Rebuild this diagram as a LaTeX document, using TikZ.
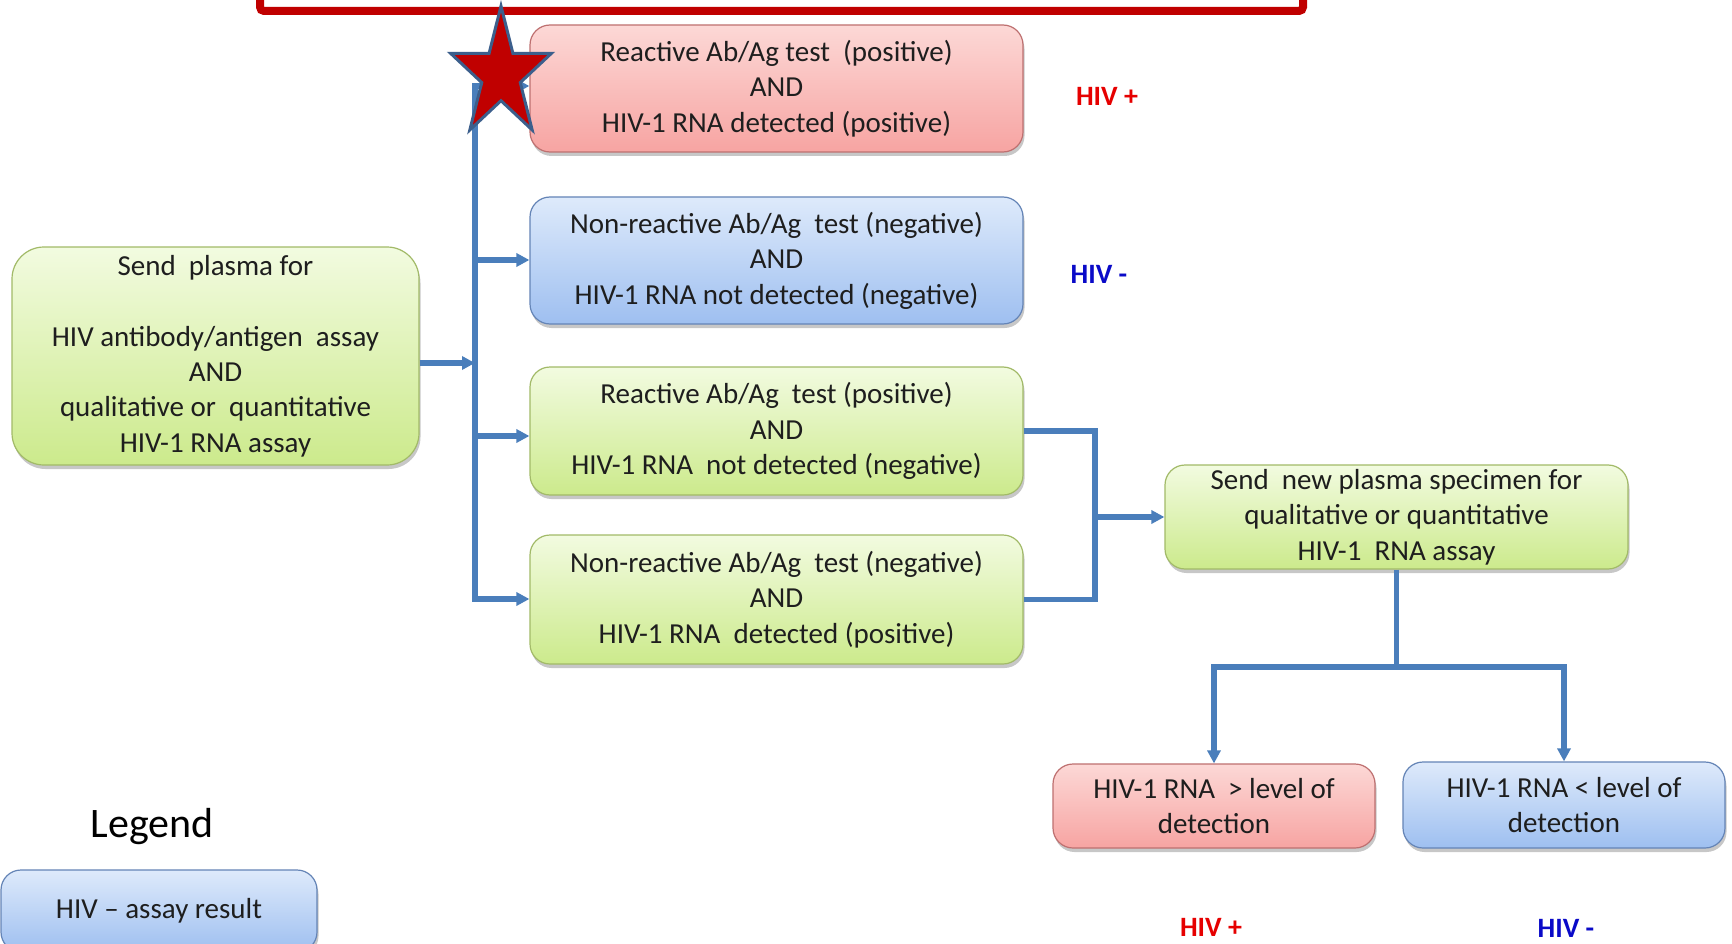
\documentclass[tikz,border=0pt]{standalone}
\usepackage{fontspec}
\setmainfont{Carlito}
\usetikzlibrary{arrows.meta,shadows,calc}
\definecolor{connc}{RGB}{74,126,187}
\definecolor{txt}{RGB}{30,30,30}
\definecolor{redtop}{RGB}{252,216,214}
\definecolor{redbot}{RGB}{247,164,162}
\definecolor{redbd}{RGB}{190,112,112}
\definecolor{bluetop}{RGB}{222,234,251}
\definecolor{bluebot}{RGB}{158,191,240}
\definecolor{bluebd}{RGB}{100,132,182}
\definecolor{greentop}{RGB}{242,251,224}
\definecolor{greenbot}{RGB}{204,234,140}
\definecolor{greenbd}{RGB}{162,186,104}
\definecolor{framered}{RGB}{192,0,0}
\definecolor{starred}{RGB}{192,0,0}
\definecolor{starblue}{RGB}{60,95,140}
\definecolor{hivred}{RGB}{230,0,0}
\definecolor{hivblue}{RGB}{10,10,200}
\begin{document}
\begin{tikzpicture}[x=1pt,y=-1pt,
  box/.style={rounded corners=20pt, draw, line width=1.2pt, align=center,
    inner sep=0pt, font=\fontsize{29}{35.4}\selectfont, text=txt,
    drop shadow={shadow xshift=1.5pt, shadow yshift=-4pt, opacity=0.22, fill=black}},
  redbox/.style={box, draw=redbd, top color=redtop, bottom color=redbot},
  bluebox/.style={box, draw=bluebd, top color=bluetop, bottom color=bluebot},
  greenbox/.style={box, draw=greenbd, top color=greentop, bottom color=greenbot},
  conn/.style={line width=5.5pt, draw=connc},
  arr/.style={-{Triangle[length=13pt,width=13pt]}},
  hivp/.style={font=\fontsize{28}{30}\selectfont\bfseries, text=hivred},
  hivn/.style={font=\fontsize{28}{30}\selectfont\bfseries, text=hivblue},
]
\useasboundingbox (0,0) rectangle (1732,944);
\clip (0,0) rectangle (1732,944);
\fill[white] (0,0) rectangle (1732,944);

% top frame
\draw[framered, line width=8pt, rounded corners=4pt] (260,-60) rectangle (1303,11);

% boxes
\node[greenbox, rounded corners=32pt, minimum width=407pt, minimum height=218pt] (start) at (215.5,356)
  {Send~ plasma for\\[35.4pt]HIV antibody/antigen~ assay\\AND\\qualitative or~ quantitative\\HIV-1 RNA assay};
\node[redbox, minimum width=493pt, minimum height=127pt] (b1) at (776.5,88.5)
  {Reactive Ab/Ag test~ (positive)\\AND\\HIV-1 RNA detected (positive)};
\node[bluebox, minimum width=493pt, minimum height=127pt] (b2) at (776.5,260.5)
  {Non-reactive Ab/Ag~ test (negative)\\AND\\HIV-1 RNA not detected (negative)};
\node[greenbox, minimum width=493pt, minimum height=128pt] (b3) at (776.5,431)
  {Reactive Ab/Ag~ test (positive)\\AND\\HIV-1 RNA~ not detected (negative)};
\node[greenbox, minimum width=493pt, minimum height=129pt] (b4) at (776.5,599.5)
  {Non-reactive Ab/Ag~ test (negative)\\AND\\HIV-1 RNA~ detected (positive)};
\node[greenbox, minimum width=463pt, minimum height=104pt] (b5) at (1396.5,517)
  {Send~ new plasma specimen for\\qualitative or quantitative\\HIV-1~ RNA assay};
\node[redbox, minimum width=322pt, minimum height=84pt] (b6) at (1214,806)
  {HIV-1 RNA~ > level of\\detection};
\node[bluebox, minimum width=322pt, minimum height=86pt] (b7) at (1564,805)
  {HIV-1 RNA < level of\\detection};

% result labels
\node[hivp] (r1) at (1107,96) {HIV +};
\node[hivn] (r2) at (1099,274) {HIV -};
\node[hivp] (r6) at (1211,927) {HIV +};
\node[hivn] (r7) at (1566,928) {HIV -};

% legend
\node[font=\fontsize{42}{50}\selectfont, text=black, anchor=base] (leg) at (152,837) {Legend};
\node[bluebox, drop shadow={opacity=0}, minimum width=316pt, minimum height=82pt] (legbox) at (159,911)
  {HIV -- assay result};

% connectors
\coordinate (ttop) at (475,86);
\coordinate (tbot) at (475,599);
\coordinate (tmid) at (475,363);
\coordinate (t2) at (475,260);
\coordinate (t3) at (475,436);
\coordinate (bx) at (1095,517);
\coordinate (split) at (1398,667);

\draw[conn,{Triangle[length=13pt,width=13pt]}-{Triangle[length=13pt,width=13pt]}]
  (b1.west |- ttop) -- (ttop) -- (tbot) -- (b4.west |- tbot);
\draw[conn,arr] (start.east |- tmid) -- (tmid);
\draw[conn,arr] (t2) -- (b2.west |- t2);
\draw[conn,arr] (t3) -- (b3.west |- t3);

\draw[conn] (b3.east) -- (b3.east -| bx) -- (b4.east -| bx) -- (b4.east);
\draw[conn,arr] (bx |- b5.west) -- (b5.west);

\draw[conn] (b5.south) -- (b5.south |- split);
\draw[conn,arr] (b5.south |- split) -| (b6.north);
\draw[conn,arr] (b5.south |- split) -| (b7.north);

% star
\begin{scope}[shift={(501,74.5)}, xscale=53, yscale=-68.5]
\filldraw[fill=starred, draw=starblue, line width=3pt, line join=miter]
  (90:1) -- (126:0.382) -- (162:1) -- (198:0.382) -- (234:1) -- (270:0.382)
  -- (306:1) -- (342:0.382) -- (18:1) -- (54:0.382) -- cycle;
\end{scope}
\end{tikzpicture}
\end{document}
